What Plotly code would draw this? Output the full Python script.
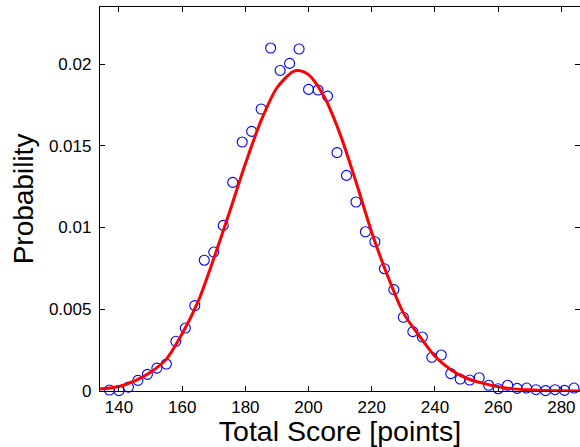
import plotly.graph_objects as go

# Observed data (open blue circles)
score_x = [137, 140, 143, 146, 149, 152, 155, 158, 161, 164, 167, 170, 173, 176, 179,
           182, 185, 188, 191, 194, 197, 200, 203, 206, 209, 212, 215, 218, 221, 224,
           227, 230, 233, 236, 239, 242, 245, 248, 251, 254, 257, 260, 263, 266, 269,
           272, 275, 278, 281, 284]
prob_obs = [0.00006, 0.00002, 0.00024, 0.00065, 0.00102, 0.00140, 0.00165, 0.00304,
            0.00385, 0.00522, 0.00800, 0.00850, 0.01013, 0.01276, 0.01523, 0.01588,
            0.01725, 0.02098, 0.01961, 0.02004, 0.02092, 0.01845, 0.01841, 0.01804,
            0.01458, 0.01319, 0.01156, 0.00974, 0.00913, 0.00748, 0.00620, 0.00451,
            0.00363, 0.00330, 0.00206, 0.00220, 0.00106, 0.00073, 0.00067, 0.00081,
            0.00035, 0.00014, 0.00035, 0.00016, 0.00018, 0.00008, 0.00002, 0.00008,
            0.00004, 0.00018]

# Fitted curve (red line)
fit_x = [134, 140, 145, 150, 155, 160, 165, 170, 175, 180, 185, 190, 195, 197, 200,
         205, 210, 215, 220, 225, 230, 235, 240, 245, 250, 255, 260, 265, 270, 275,
         280, 286]
fit_y = [0.00012, 0.00028, 0.00062, 0.00115, 0.00195, 0.00350, 0.00545, 0.00810,
         0.01095, 0.01390, 0.01655, 0.01855, 0.01953, 0.01960, 0.01935, 0.01798,
         0.01570, 0.01280, 0.00970, 0.00705, 0.00478, 0.00338, 0.00212, 0.00130,
         0.00078, 0.00048, 0.00026, 0.00013, 0.00007, 0.00003, 0.00001, 0.00000]

x_ticks = [140, 160, 180, 200, 220, 240, 260, 280]
y_ticks = [0, 0.005, 0.01, 0.015, 0.02]
y_tick_text = ["0", "0.005", "0.01", "0.015", "0.02"]

FONT = "Liberation Sans, Arial, Helvetica, sans-serif"

fig = go.Figure()
fig.add_trace(go.Scatter(
    x=score_x, y=prob_obs, mode="markers",
    marker=dict(symbol="circle-open", size=10, color="#0000FF", line=dict(width=1.1, color="#0000FF")),
    showlegend=False, cliponaxis=False,
))
fig.add_trace(go.Scatter(
    x=fit_x, y=fit_y, mode="lines", line=dict(color="#FF0000", width=3, shape="spline", smoothing=0.8),
    showlegend=False,
))

axis_common = dict(
    showline=True, linecolor="black", linewidth=1.3, mirror="ticks",
    ticks="inside", ticklen=5, tickwidth=1, tickcolor="black",
    showgrid=False, zeroline=False, automargin=False,
    tickfont=dict(family=FONT, size=17, color="black"),
)

fig.update_layout(
    width=580, height=447,
    margin=dict(l=100, r=0, t=7, b=56),
    paper_bgcolor="white", plot_bgcolor="white",
    font=dict(family=FONT, color="black"),
    hovermode=False,
    xaxis=dict(range=[134, 285.9], tickvals=x_ticks,
               title=dict(text="Total Score [points]", font=dict(family=FONT, size=28.5), standoff=2),
               **axis_common),
    yaxis=dict(range=[0, 0.02349], tickvals=y_ticks, ticktext=y_tick_text,
               ticklabelstandoff=4,
               title=dict(text="Probability", font=dict(family=FONT, size=28), standoff=7),
               **axis_common),
)

# remove the default page margin so the 580x447 figure fills the window exactly
fig.write_html(
    "out.html",
    config={"displayModeBar": False},
    post_script="document.body.style.margin='0';document.documentElement.style.overflow='hidden';",
)
